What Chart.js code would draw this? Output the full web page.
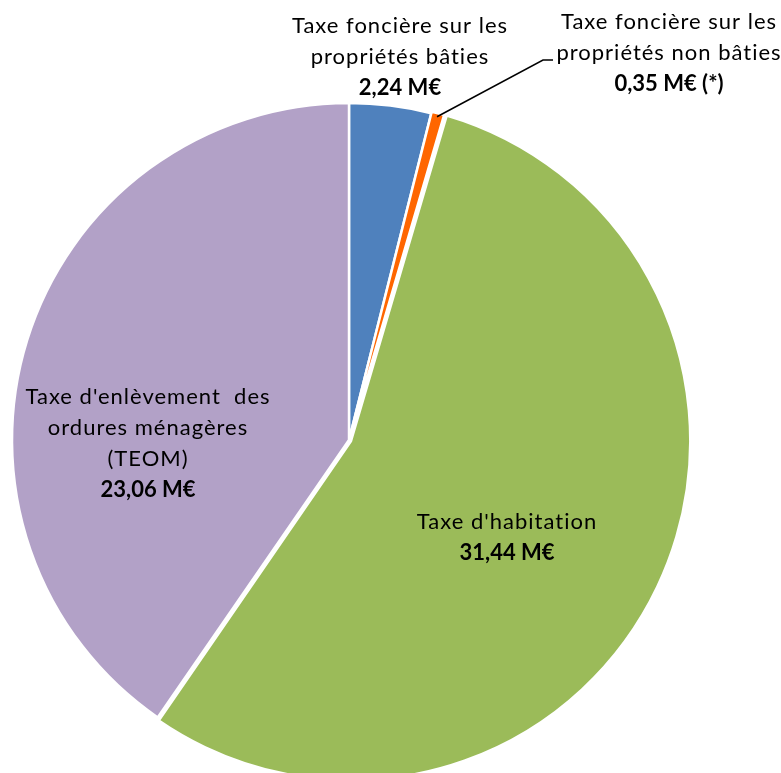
<!DOCTYPE html>
<html>
<head>
<meta charset="utf-8">
<script src="https://cdn.jsdelivr.net/npm/chart.js@4"></script>
<style>
  html, body { margin: 0; padding: 0; background: #fff; overflow: hidden; }
  #wrap { width: 781px; height: 773px; }
</style>
</head>
<body>
<div id="wrap"><canvas id="myChart"></canvas></div>
<script>
// data
const categories = [
    "Taxe foncière sur les propriétés bâties",
    "Taxe foncière sur les propriétés non bâties",
    "Taxe d'habitation",
    "Taxe d'enlèvement des ordures ménagères (TEOM)",
];
const values = [2.24, 0.35, 31.44, 23.06];
const valueLabels = ["2,24 M€", "0,35 M€ (*)", "31,44 M€", "23,06 M€"];
const labelLines = [
    ["Taxe foncière sur les", "propriétés bâties"],
    ["Taxe foncière sur les", "propriétés non bâties"],
    ["Taxe d'habitation"],
    ["Taxe d'enlèvement  des", "ordures ménagères", "(TEOM)"],
];
const colors = ["#4F81BD", "#FF6600", "#9BBB59", "#B2A1C7"];

// where each label block sits (x center, y of first line)
const labelPos = [
    { x: 400, y: 26 },
    { x: 669, y: 22 },
    { x: 507, y: 522 },
    { x: 148, y: 397 },
];

const FONT = "Lato, 'Liberation Sans', sans-serif";
const LINE_H = 31;

const labelPlugin = {
    id: "pieLabels",
    afterDraw(chart) {
        const ctx = chart.ctx;
        const arcs = chart.getDatasetMeta(0).data;
        ctx.save();
        ctx.textAlign = "center";
        ctx.textBaseline = "middle";
        ctx.fillStyle = "#000";
        labelLines.forEach((lines, i) => {
            const p = labelPos[i];
            ctx.letterSpacing = "1px";
            ctx.font = "22px " + FONT;
            lines.forEach((t, j) => ctx.fillText(t, p.x, p.y + j * LINE_H));
            ctx.letterSpacing = "0px";
            ctx.font = "bold 22px " + FONT;
            ctx.fillText(valueLabels[i], p.x, p.y + lines.length * LINE_H);
        });

        // leader line for the small slice
        const a = arcs[1];
        const mid = (a.startAngle + a.endAngle) / 2;
        const sx = a.x + Math.cos(mid) * (a.outerRadius - 2);
        const sy = a.y + Math.sin(mid) * (a.outerRadius - 2);
        ctx.strokeStyle = "#000";
        ctx.lineWidth = 1.5;
        ctx.beginPath();
        ctx.moveTo(sx, sy);
        ctx.lineTo(543, 60);
        ctx.lineTo(553, 60);
        ctx.stroke();
        ctx.restore();
    },
};

document.addEventListener("DOMContentLoaded", () => {
    const ctx = document.getElementById("myChart").getContext("2d");
    new Chart(ctx, {
        type: "pie",
        data: {
            labels: categories,
            datasets: [
                {
                    data: values,
                    backgroundColor: colors,
                    borderColor: "#ffffff",
                    borderWidth: 2.5,
                    offset: [0, 3, 9, 0],
                    clip: false,
                },
            ],
        },
        options: {
            responsive: true,
            maintainAspectRatio: false,
            animation: false,
            radius: 337,
            layout: {
                padding: { left: 0, right: 83, top: 107, bottom: 0 },
            },
            plugins: {
                legend: { display: false },
                tooltip: { enabled: false },
            },
        },
        plugins: [labelPlugin],
    });
});
</script>
</body>
</html>
